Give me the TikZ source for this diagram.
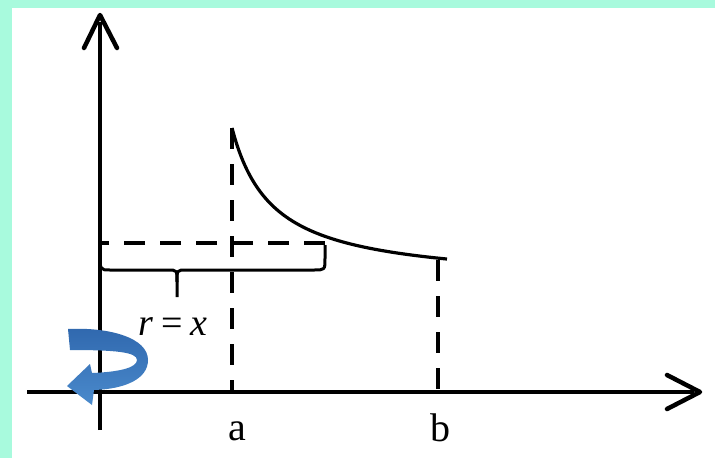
\documentclass[tikz,border=0pt]{standalone}
\usepackage{fontspec}
\setmainfont{Liberation Serif}
\begin{document}
\begin{tikzpicture}[x=1pt,y=-1pt,
  axis/.style={line width=4pt},
  tipline/.style={line width=4.5pt, line cap=round, line join=round},
  dashline/.style={line width=3.5pt, dash pattern=on 21pt off 15pt},
  curveline/.style={line width=3.2pt},
  bracestyle/.style={line width=3pt, line join=round},
  lbl/.style={font=\fontsize{40}{46}\selectfont, inner sep=0pt, anchor=base},
]
\definecolor{aqua}{RGB}{168,250,221}
\definecolor{arrowdark}{RGB}{48,104,174}
\definecolor{arrowlight}{RGB}{74,138,204}
\fill[white] (0,0) rectangle (715,458);
\fill[aqua] (0,0) rectangle (715,8);
\fill[aqua] (0,0) rectangle (12,458);
\useasboundingbox (0,0) rectangle (715,458);

% named points
\coordinate (ybot) at (100,430);
\coordinate (ytop) at (100,15);
\coordinate (yl) at (84,48);
\coordinate (yr) at (117,48);
\coordinate (xleft) at (27,392);
\coordinate (xtip) at (700,392);
\coordinate (xu) at (667,375);
\coordinate (xd) at (667,409);
\coordinate (atop) at (232,128);
\coordinate (abot) at (232,392);
\coordinate (btop) at (438,260);
\coordinate (bbot) at (438,392);
\coordinate (hl) at (100,243);
\coordinate (hr) at (325,243);

% axes
\draw[axis] (ybot) -- (100,22);
\draw[tipline] (yl) -- (ytop) -- (yr);
\draw[axis] (xleft) -- (694,392);
\draw[tipline] (xu) -- (xtip) -- (xd);

% dashed lines
\draw[dashline] (atop) -- (abot);
\draw[dashline] (btop) -- (bbot);
\draw[dashline] (hr) -- (hl);

% curve
\draw[curveline] plot[domain=232:447, samples=80, smooth] (\x, {283.9 - 6362/(\x-191.2)});

% brace
\draw[bracestyle] (100,252) .. controls (100,270) .. (110,270) -- (168,270)
  .. controls (177,270) .. (177,282) -- (177,297);
\draw[bracestyle] (177,282) .. controls (177,270) .. (186,270) -- (314,270)
  .. controls (325,270) .. (325,258) -- (325,245);

% labels
\node[lbl] (la) at (237,440) {a};
\node[lbl] (lb) at (440,441) {b};
\node[font=\fontsize{38}{44}\selectfont, inner sep=0pt, anchor=base] (rx) at (173,335)
  {\textit{r}\hspace{8pt}=\hspace{8pt}\textit{x}};

% rotation arrow
\shade[top color=arrowdark, bottom color=arrowlight]
  (68,329) .. controls (110,327) and (148,338) .. (148,360)
  .. controls (148,379) and (125,389) .. (94,390)
  -- (92,405) -- (67,386) -- (90,364) -- (92,373)
  .. controls (118,372) and (137,368) .. (137,360)
  .. controls (137,352) and (115,350) .. (70,350) -- cycle;
\end{tikzpicture}
\end{document}
